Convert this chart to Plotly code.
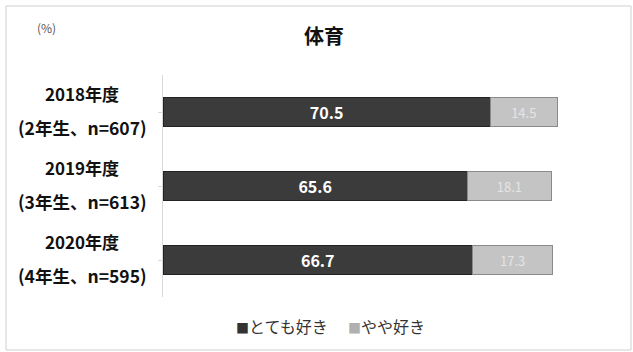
import plotly.graph_objects as go

years = ["2018年度", "2019年度", "2020年度"]
groups = ["(2年生、n=607)", "(3年生、n=613)", "(4年生、n=595)"]
very_like = [70.5, 65.6, 66.7]
somewhat_like = [14.5, 18.1, 17.3]
series_names = ["とても好き", "やや好き"]
series_colors = ["#3b3b3b", "#c4c4c4"]
title_text = "体育"
unit_text = "(%)"

FONT = "Noto Sans CJK JP"
W, H = 633, 352
L, R, T, B = 163, 6, 75, 55
pw, ph = W - L - R, H - T - B

def px(x):
    return (x - L) / pw

def py(y):
    return 1 - (y - T) / ph

fig = go.Figure()
fig.add_trace(go.Bar(
    y=years, x=very_like, orientation="h", name=series_names[0],
    marker=dict(color=series_colors[0], line=dict(color="#222222", width=1)),
    text=[f"{v:.1f}" for v in very_like], textposition="inside",
    insidetextanchor="middle",
    textfont=dict(color="white", size=17, family=FONT, weight="bold"),
    width=0.4, showlegend=False,
))
fig.add_trace(go.Bar(
    y=years, x=somewhat_like, orientation="h", name=series_names[1],
    marker=dict(color=series_colors[1], line=dict(color="#8a8a8a", width=1)),
    text=[f"{v:.1f}" for v in somewhat_like], textposition="inside",
    insidetextanchor="middle",
    textfont=dict(color="#e4e4e4", size=13, family=FONT),
    width=0.4, showlegend=False,
))

annotations = []
for yr, grp in zip(years, groups):
    annotations.append(dict(x=px(82), xref="paper", y=yr, yref="y", text=yr,
                            showarrow=False, yshift=19, xanchor="center", yanchor="middle",
                            font=dict(size=17, family=FONT, color="#111111", weight="bold")))
    annotations.append(dict(x=px(82), xref="paper", y=yr, yref="y", text=grp,
                            showarrow=False, yshift=-15, xanchor="center", yanchor="middle",
                            font=dict(size=17.5, family=FONT, color="#111111", weight="bold")))
annotations.append(dict(x=px(324), y=py(35), xref="paper", yref="paper", text=f"<b>{title_text}</b>",
                        showarrow=False, yanchor="middle",
                        font=dict(size=20, family=FONT, color="#111111")))
annotations.append(dict(x=px(35), y=py(28), xref="paper", yref="paper", text=unit_text,
                        showarrow=False, yanchor="middle",
                        font=dict(size=12, family=FONT, color="#555555")))
# legend drawn as annotations
leg_x = [234, 346]
leg_sq = ["#333333", "#b0b0b0"]
for name, col, lx in zip(series_names, leg_sq, leg_x):
    annotations.append(dict(x=px(lx), y=py(326), xref="paper", yref="paper", xanchor="left",
                            yanchor="middle",
                            text=f"<span style='color:{col};font-size:13px'>■</span>{name}",
                            showarrow=False, font=dict(size=16, family=FONT, color="#333333")))

fig.update_layout(
    width=W, height=H, barmode="stack",
    margin=dict(l=L, r=R, t=T, b=B),
    paper_bgcolor="white", plot_bgcolor="white",
    xaxis=dict(range=[0, 100], visible=False, fixedrange=True),
    yaxis=dict(autorange="reversed", showticklabels=False, showline=True,
               linecolor="#d8d8d8", linewidth=1, ticks="outside", ticklen=4,
               tickcolor="#d8d8d8", showgrid=False, zeroline=False, fixedrange=True),
    showlegend=False,
    annotations=annotations,
    shapes=[dict(type="rect", xref="paper", yref="paper",
                 x0=px(6), x1=px(631), y0=py(350), y1=py(6),
                 line=dict(color="#cfcfcf", width=1))],
    font=dict(family=FONT),
)

fig.write_html("out.html", config={"displayModeBar": False},
               post_script="document.body.style.margin='0px';")
